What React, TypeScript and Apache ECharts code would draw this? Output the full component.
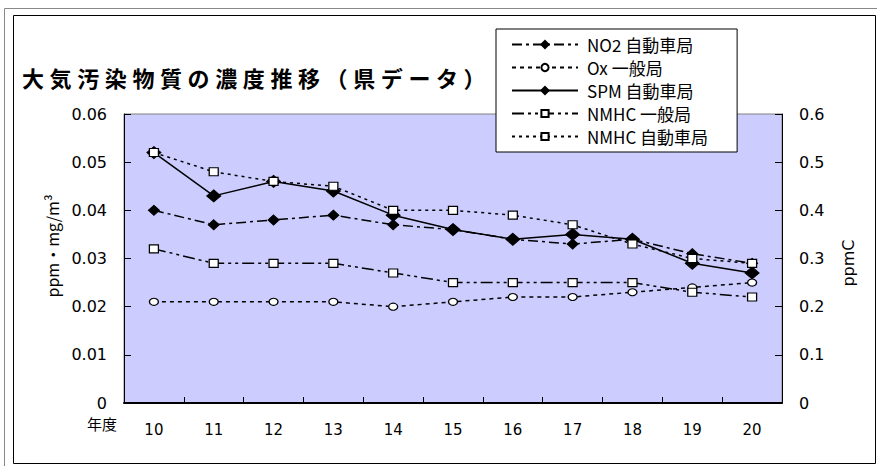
import React, { useEffect, useRef } from "react";
import * as echarts from "echarts";

const TITLE = "大気汚染物質の濃度推移（県データ）";
const YEARS = ["10", "11", "12", "13", "14", "15", "16", "17", "18", "19", "20"];
const NO2_CAR = [0.040, 0.037, 0.038, 0.039, 0.037, 0.036, 0.034, 0.033, 0.034, 0.031, 0.029];
const OX_GEN = [0.021, 0.021, 0.021, 0.021, 0.020, 0.021, 0.022, 0.022, 0.023, 0.024, 0.025];
const SPM_CAR = [0.052, 0.043, 0.046, 0.044, 0.039, 0.036, 0.034, 0.035, 0.034, 0.029, 0.027];
const NMHC_GEN = [0.32, 0.29, 0.29, 0.29, 0.27, 0.25, 0.25, 0.25, 0.25, 0.23, 0.22];
const NMHC_CAR = [0.52, 0.48, 0.46, 0.45, 0.40, 0.40, 0.39, 0.37, 0.33, 0.30, 0.29];
const SERIES_NAMES = ["NO2 自動車局", "Ox 一般局", "SPM 自動車局", "NMHC 一般局", "NMHC 自動車局"];
const LEFT_NAME = "ppm・mg/m³";
const RIGHT_NAME = "ppmC";
const X_NAME = "年度";

const NUM_FONT = "DejaVu Sans, Liberation Sans, sans-serif";
const JP_FONT = '"Noto Sans CJK JP", "DejaVu Sans", sans-serif';

export default function App() {
  const ref = useRef<HTMLDivElement>(null);
  useEffect(() => {
    if (!ref.current) return;
    const chart = echarts.init(ref.current, undefined, { renderer: "svg" });
    const axisLabel = { color: "#000", fontSize: 16, fontFamily: NUM_FONT, margin: 17 };
    const axisTick = { show: true, inside: true, length: 7, lineStyle: { color: "#000", width: 1 } };
    const axisLine = { show: true, lineStyle: { color: "#000", width: 1 } };
    const openSym = { color: "#fff", borderColor: "#000", borderWidth: 1.2 };
    const filledSym = { color: "#000", borderColor: "#000", borderWidth: 1 };
    const titleChars = Array.from(TITLE).map((ch, i) => ({
      type: "text",
      x: 22 + i * 27.6,
      y: 77,
      style: { text: ch, font: `bold 22px ${JP_FONT}`, fill: "#000", verticalAlign: "middle" },
    }));
    chart.setOption({
      animation: false,
      backgroundColor: "#fff",
      grid: {
        left: 124, right: 95, top: 114, bottom: 63,
        show: true, backgroundColor: "#CCCCFF", borderColor: "#808080", borderWidth: 1,
      },
      legend: {
        orient: "vertical",
        left: 496, top: 29,
        padding: [7, 29, 7, 15],
        itemWidth: 66, itemHeight: 9, itemGap: 6,
        backgroundColor: "#fff", borderColor: "#000", borderWidth: 1,
        textStyle: { color: "#000", fontSize: 17, lineHeight: 17, fontFamily: JP_FONT, padding: [0, 0, 0, 4] },
        data: SERIES_NAMES,
      },
      xAxis: {
        type: "category",
        data: YEARS,
        boundaryGap: true,
        axisLine: { show: true, lineStyle: { color: "#000", width: 2 } },
        axisTick: { show: true, inside: true, length: 6, lineStyle: { color: "#000" } },
        axisLabel: { color: "#000", fontSize: 15, fontFamily: NUM_FONT, margin: 19 },
        splitLine: { show: false },
      },
      yAxis: [
        {
          type: "value", position: "left", min: 0, max: 0.06, interval: 0.01,
          axisLine, axisTick, axisLabel, splitLine: { show: false },
        },
        {
          type: "value", position: "right", min: 0, max: 0.6, interval: 0.1,
          axisLine, axisTick, axisLabel, splitLine: { show: false },
        },
      ],
      series: [
        {
          name: SERIES_NAMES[0], type: "line", yAxisIndex: 0, data: NO2_CAR,
          symbol: "diamond", symbolSize: [11, 10], itemStyle: filledSym,
          lineStyle: { color: "#000", width: 1.5, type: [10, 4, 3, 4] }, z: 3,
        },
        {
          name: SERIES_NAMES[1], type: "line", yAxisIndex: 0, data: OX_GEN,
          symbol: "circle", symbolSize: [9, 7], itemStyle: openSym,
          lineStyle: { color: "#000", width: 1.5, type: [4, 4] }, z: 3,
        },
        {
          name: SERIES_NAMES[2], type: "line", yAxisIndex: 0, data: SPM_CAR,
          symbol: "diamond", symbolSize: [14, 12], itemStyle: filledSym,
          lineStyle: { color: "#000", width: 1.5, type: "solid" }, z: 2,
        },
        {
          name: SERIES_NAMES[3], type: "line", yAxisIndex: 1, data: NMHC_GEN,
          symbol: "rect", symbolSize: [9, 8], itemStyle: openSym,
          lineStyle: { color: "#000", width: 1.5, type: [12, 4, 3, 4, 3, 4] }, z: 4,
        },
        {
          name: SERIES_NAMES[4], type: "line", yAxisIndex: 1, data: NMHC_CAR,
          symbol: "rect", symbolSize: [9, 8], itemStyle: openSym,
          lineStyle: { color: "#000", width: 1.5, type: [3, 4] }, z: 4,
        },
      ],
      graphic: [
        {
          type: "rect", z: -10, silent: true,
          shape: { x: 4.5, y: 8.5, width: 880, height: 470 },
          style: { fill: "none", stroke: "#888", lineWidth: 1 },
        },
        {
          type: "rect", z: -10, silent: true,
          shape: { x: 13.5, y: 15.5, width: 862, height: 448 },
          style: { fill: "none", stroke: "#000", lineWidth: 1 },
        },
        ...titleChars,
        {
          type: "text", x: 52, y: 246, rotation: Math.PI / 2,
          style: { text: LEFT_NAME, font: `16px ${JP_FONT}`, fill: "#000", align: "center", verticalAlign: "middle" },
        },
        {
          type: "text", x: 848, y: 263, rotation: Math.PI / 2,
          style: { text: RIGHT_NAME, font: `16px ${NUM_FONT}`, fill: "#000", align: "center", verticalAlign: "middle" },
        },
        {
          type: "text", x: 102, y: 423,
          style: { text: X_NAME, font: `15px ${JP_FONT}`, fill: "#000", align: "center", verticalAlign: "middle" },
        },
      ],
    });
    return () => chart.dispose();
  }, []);
  return <div ref={ref} style={{ position: "fixed", left: 0, top: 0, width: 877, height: 466 }} />;
}
